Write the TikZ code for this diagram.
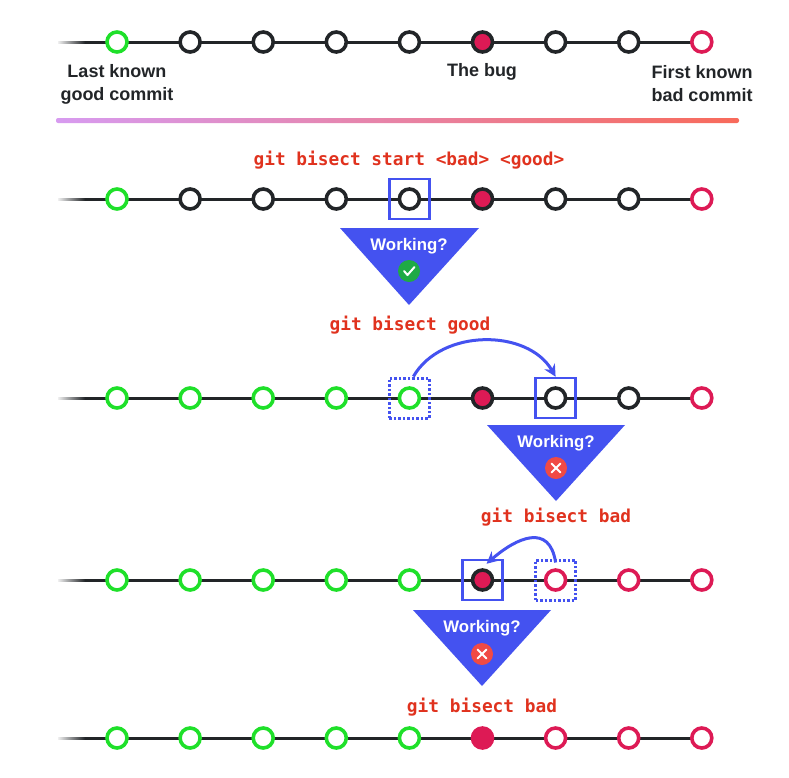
\documentclass[tikz,border=0pt]{standalone}
\usepackage{fontspec}
\setsansfont{Liberation Sans}
\setmonofont{DejaVu Sans Mono}
\usetikzlibrary{arrows.meta,shapes.geometric,fadings}
\definecolor{good}{HTML}{1FE02A}
\definecolor{bad}{HTML}{DD1A55}
\definecolor{ink}{HTML}{222528}
\definecolor{pickblue}{HTML}{4452F0}
\definecolor{cmd}{HTML}{E0321E}
\definecolor{okgreen}{HTML}{1FAA45}
\definecolor{nogo}{HTML}{F04A45}
\definecolor{gradA}{HTML}{D79BF0}
\definecolor{gradB}{HTML}{F86A5A}
\tikzset{
  commit/.style={circle, minimum size=20pt, inner sep=0pt, line width=3.6pt, draw=ink, fill=white},
  g/.style={commit, draw=good},
  b/.style={commit, draw=bad},
  k/.style={commit},
  bug/.style={commit, fill=bad},
  bugf/.style={commit, draw=bad, fill=bad},
  track/.style={line width=3pt, ink},
  cmdtext/.style={font=\ttfamily\bfseries\fontsize{17.8}{18}\selectfont, text=cmd},
  label/.style={font=\sffamily\bfseries\fontsize{18}{23}\selectfont, text=ink, align=center},
  pick/.style={draw=pickblue, line width=2.5pt, minimum size=40pt, inner sep=0pt},
  was/.style={pick, dotted, line width=3pt},
  ask/.style={fill=pickblue},
  askt/.style={font=\sffamily\bfseries\fontsize{16.8}{17}\selectfont, text=white},
  icon/.style={circle, minimum size=22pt, inner sep=0pt},
  tick/.style={white, line width=2pt, line cap=round, line join=round},
  hop/.style={-{Stealth[length=12pt,width=12pt]}, line width=3pt, pickblue}
}
\begin{document}
\begin{tikzpicture}[x=1pt,y=-1pt]
\useasboundingbox (0,0) rectangle (789,777);

% rows of commits
\foreach \r/\y/\list in {1/42/{g,k,k,k,k,bug,k,k,b},
                         2/199/{g,k,k,k,k,bug,k,k,b},
                         3/398/{g,g,g,g,g,bug,k,k,b},
                         4/580/{g,g,g,g,g,bug,b,b,b},
                         5/738/{g,g,g,g,g,bugf,b,b,b}} {
  \draw[track] (58,\y) -- (702,\y);
  \fill[white, path fading=east] (56,\y-3) rectangle (85,\y+3);
  \foreach \s [count=\i] in \list
    \node[\s] (r\r c\i) at ({117+73.1*(\i-1)},\y) {};
}

% labels of the first row
\node[label] (lgood) at (117,84) {Last known\\good commit};
\node[label] (lbug) at (482,72) {The bug};
\node[label] (lbad) at (702,84) {First known\\bad commit};
\shade[left color=gradA, right color=gradB, rounded corners=2pt] (56,118) rectangle (739,123);

% step 1
\node[cmdtext] (c1) at (409,160) {git bisect start <bad> <good>};
\node[pick] (p1) at (r2c5) {};
\fill[ask] (340,228) -- (479,228) -- (409,305) -- cycle;
\node[askt] (w1) at (409,246) {Working?};
\node[icon, fill=okgreen] (i1) at (409,271) {};
\draw[tick] (i1.center) ++(-5,0) -- ++(3.5,4) -- ++(7,-8);

% step 2
\node[cmdtext] (c2) at (410,325) {git bisect good};
\node[was] (d2) at (r3c5) {};
\node[pick] (p2) at (r3c7) {};
\draw[hop] ([xshift=4pt]d2.north) to[out=60, in=120] (p2.north);
\fill[ask] (487,425) -- (625,425) -- (556,501) -- cycle;
\node[askt] (w2) at (556,443) {Working?};
\node[icon, fill=nogo] (i2) at (556,468) {};
\draw[tick] (i2.center) ++(-4.5,-4.5) -- ++(9,9) ++(0,-9) -- ++(-9,9);

% step 3
\node[cmdtext] (c3) at (556,517) {git bisect bad};
\node[was] (d3) at (r4c7) {};
\node[pick] (p3) at (r4c6) {};
\draw[hop] ([yshift=-4pt]d3.north) .. controls +(-6,-40) and +(30,-26) .. ([xshift=4pt, yshift=-5pt]p3.north);
\fill[ask] (413,610) -- (551,610) -- (482,686) -- cycle;
\node[askt] (w3) at (482,628) {Working?};
\node[icon, fill=nogo] (i3) at (482,654) {};
\draw[tick] (i3.center) ++(-4.5,-4.5) -- ++(9,9) ++(0,-9) -- ++(-9,9);

% result
\node[cmdtext] (c4) at (482,707) {git bisect bad};
\end{tikzpicture}
\end{document}
